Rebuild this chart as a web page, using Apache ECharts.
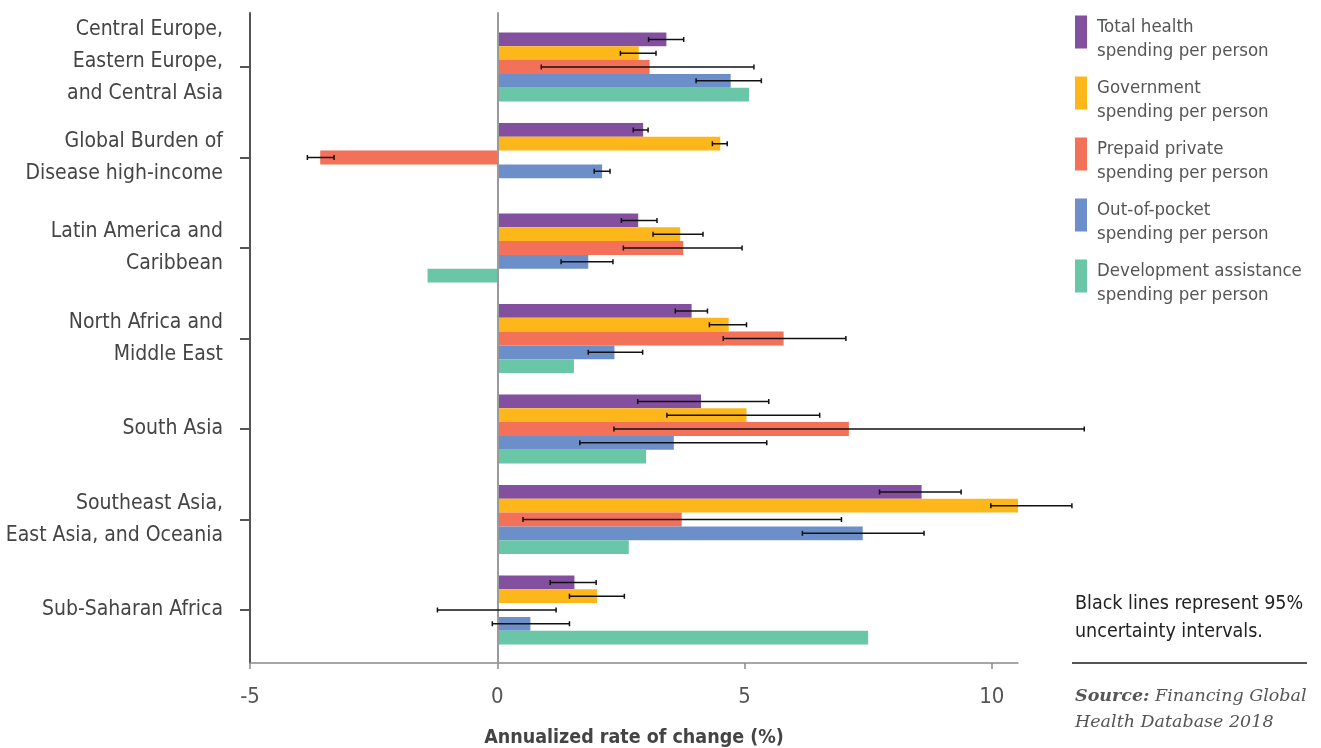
<!DOCTYPE html>
<html>
<head>
<meta charset="utf-8">
<title>Annualized rate of change in health spending per person</title>
<script src="https://cdn.jsdelivr.net/npm/echarts@6/dist/echarts.min.js"></script>
<style>
  html, body { margin: 0; padding: 0; background: #ffffff; }
  #chart { width: 1321px; height: 748px; }
</style>
</head>
<body>
<div id="chart"></div>
<script>
// Regions, top to bottom
const regions = [
  'Central Europe,\nEastern Europe,\nand Central Asia',
  'Global Burden of\nDisease high-income',
  'Latin America and\nCaribbean',
  'North Africa and\nMiddle East',
  'South Asia',
  'Southeast Asia,\nEast Asia, and Oceania',
  'Sub-Saharan Africa'
];

const seriesNames = [
  'Total health\nspending per person',
  'Government\nspending per person',
  'Prepaid private\nspending per person',
  'Out-of-pocket\nspending per person',
  'Development assistance\nspending per person'
];

// Annualized rate of change (%), with 95% uncertainty bounds
const totalHealth   = [3.42, 2.95, 2.85, 3.93, 4.12, 8.58, 1.56];
const totalLow      = [3.06, 2.75, 2.51, 3.60, 2.84, 7.73, 1.07];
const totalHigh     = [3.77, 3.05, 3.23, 4.25, 5.49, 9.38, 2.00];

const government    = [2.86, 4.51, 3.70, 4.68, 5.04, 10.81, 2.02];
const governmentLow = [2.49, 4.35, 3.15, 4.29, 3.43, 9.98, 1.46];
const governmentHigh= [3.21, 4.65, 4.16, 5.04, 6.52, 11.62, 2.57];

const prepaid       = [3.08, -3.58, 3.76, 5.79, 7.11, 3.73, 0.03];
const prepaidLow    = [0.89, -3.84, 2.55, 4.57, 2.36, 0.52, -1.21];
const prepaidHigh   = [5.19, -3.30, 4.95, 7.05, 11.87, 6.96, 1.19];

const outOfPocket   = [4.72, 2.12, 1.84, 2.37, 3.57, 7.39, 0.67];
const oopLow        = [4.02, 1.96, 1.29, 1.84, 1.67, 6.17, -0.10];
const oopHigh       = [5.34, 2.28, 2.34, 2.94, 5.45, 8.63, 1.46];

const development   = [5.09, null, -1.41, 1.55, 3.01, 2.66, 7.50];

const xTicks = [-5, 0, 5, 10];

const colors = ['#8350a0', '#fdb71a', '#f37158', '#6c8fc9', '#69c6a7'];
const sans = "'Liberation Sans Narrow', 'DejaVu Sans Condensed', 'Roboto', sans-serif";
const serif = "'DejaVu Serif', 'Liberation Serif', serif";

const values = [totalHealth, government, prepaid, outOfPocket, development];
const bounds = [
  [totalLow, totalHigh],
  [governmentLow, governmentHigh],
  [prepaidLow, prepaidHigh],
  [oopLow, oopHigh],
  null
];

const xMin = -5, xMax = 10.53;
const catGap = 0.24;
const nSeries = values.length;

// error-bar records: [category index, low, high, series index]
const errorData = [];
bounds.forEach((b, s) => {
  if (!b) return;
  b[0].forEach((lo, i) => {
    if (lo != null && b[1][i] != null) errorData.push([i, lo, b[1][i], s]);
  });
});

// legend swatch: a 12x33 block sitting at the top of a 12x47 box
const swatch = 'path://M0,0L12,0L12,33L0,33Z M0,47L12,47';

const chart = echarts.init(document.getElementById('chart'), null, { renderer: 'canvas' });

const barSeries = values.map((v, s) => ({
  name: seriesNames[s],
  type: 'bar',
  xAxisIndex: 1,
  yAxisIndex: 2,
  data: v,
  barGap: '0%',
  barCategoryGap: (catGap * 100) + '%',
  itemStyle: { color: colors[s] },
  emphasis: { disabled: true },
  z: 2
}));

chart.setOption({
  animation: false,
  backgroundColor: '#ffffff',
  grid: [
    // frame grid: axis lines span the full plotting height
    { left: 250, right: 303, top: 13, bottom: 85, outerBoundsMode: 'none', containLabel: false },
    // bar grid: category bands
    { left: 250, right: 303, top: 21.75, bottom: 92.75, outerBoundsMode: 'none', containLabel: false }
  ],
  legend: {
    orient: 'vertical',
    left: 1070,
    top: 10,
    itemWidth: 12,
    itemHeight: 47,
    itemGap: 13,
    icon: swatch,
    itemStyle: { borderWidth: 0 },
    selectedMode: false,
    data: seriesNames,
    textStyle: {
      fontFamily: sans,
      fontSize: 18.5,
      lineHeight: 24,
      color: '#555555',
      padding: [0, 0, 0, 5]
    }
  },
  xAxis: [
    {
      gridIndex: 0,
      type: 'value',
      min: xMin,
      max: xMax,
      position: 'bottom',
      axisLine: { show: true, onZero: false, lineStyle: { color: '#8a8a8a', width: 1.5 } },
      axisTick: { show: true, length: 6, customValues: xTicks, lineStyle: { color: '#8a8a8a', width: 1.5 } },
      axisLabel: {
        customValues: xTicks,
        margin: 23,
        fontFamily: sans,
        fontSize: 22,
        color: '#555555'
      },
      splitLine: { show: false },
      name: 'Annualized rate of change (%)',
      nameLocation: 'middle',
      nameGap: 65,
      nameTextStyle: { fontFamily: sans, fontSize: 19.5, fontWeight: 'bold', color: '#444444' }
    },
    {
      gridIndex: 1,
      type: 'value',
      min: xMin,
      max: xMax,
      show: false
    }
  ],
  yAxis: [
    {
      // left frame line
      gridIndex: 0,
      type: 'value',
      min: 0, max: 1,
      position: 'left',
      axisLine: { show: true, onZero: false, lineStyle: { color: '#555555', width: 2 } },
      axisTick: { show: false },
      axisLabel: { show: false },
      splitLine: { show: false }
    },
    {
      // zero reference line
      gridIndex: 0,
      type: 'value',
      min: 0, max: 1,
      axisLine: { show: true, onZero: true, lineStyle: { color: '#9a9a9a', width: 2 } },
      axisTick: { show: false },
      axisLabel: { show: false },
      splitLine: { show: false },
      z: 3
    },
    {
      gridIndex: 1,
      type: 'category',
      data: regions,
      inverse: true,
      position: 'left',
      axisLine: { show: false, onZero: false },
      axisTick: { show: true, alignWithLabel: true, length: 10, inside: false, lineStyle: { color: '#555555', width: 2 } },
      axisLabel: {
        margin: 27,
        fontFamily: sans,
        fontSize: 21,
        lineHeight: 32,
        color: '#444444',
        align: 'right',
        // three-line names sit a little above their tick
        formatter: function (v) {
          const lines = v.split('\n');
          const body = lines.map(l => '{l|' + l + '}').join('\n');
          return lines.length >= 3 ? body + '\n{s| }' : body;
        },
        rich: {
          l: { fontFamily: sans, fontSize: 21, lineHeight: 32, color: '#444444' },
          s: { fontSize: 1, lineHeight: 10 }
        }
      }
    }
  ],
  series: barSeries.concat([
    {
      type: 'custom',
      name: 'uncertainty',
      xAxisIndex: 1,
      yAxisIndex: 2,
      data: errorData,
      z: 5,
      silent: true,
      encode: { x: [1, 2], y: 0 },
      renderItem: function (params, api) {
        const cat = api.value(0);
        const lo = api.value(1);
        const hi = api.value(2);
        const s = api.value(3);
        const band = api.size([0, 1])[1];
        const total = band * (1 - catGap);
        const each = total / nSeries;
        const p0 = api.coord([lo, cat]);
        const p1 = api.coord([hi, cat]);
        const y = p0[1] - total / 2 + (s + 0.5) * each;
        const cap = 2.5;
        const style = { stroke: '#111111', lineWidth: 1.5 };
        return {
          type: 'group',
          children: [
            { type: 'line', shape: { x1: p0[0], y1: y, x2: p1[0], y2: y }, style: style },
            { type: 'line', shape: { x1: p0[0], y1: y - cap, x2: p0[0], y2: y + cap }, style: style },
            { type: 'line', shape: { x1: p1[0], y1: y - cap, x2: p1[0], y2: y + cap }, style: style }
          ]
        };
      }
    }
  ]),
  graphic: [
    {
      type: 'text',
      left: 1075,
      top: 590,
      style: {
        text: 'Black lines represent 95%\nuncertainty intervals.',
        fontFamily: sans,
        fontSize: 19.5,
        lineHeight: 28,
        fill: '#222222'
      }
    },
    {
      type: 'line',
      shape: { x1: 1072, y1: 663, x2: 1307, y2: 663 },
      style: { stroke: '#555555', lineWidth: 2 }
    },
    {
      type: 'text',
      left: 1075,
      top: 683,
      style: {
        text: '{b|Source:} Financing Global\nHealth Database 2018',
        fontFamily: serif,
        fontStyle: 'italic',
        fontSize: 17.5,
        lineHeight: 26,
        fill: '#555555',
        rich: {
          b: { fontFamily: serif, fontStyle: 'italic', fontWeight: 'bold', fontSize: 17.5, fill: '#555555' }
        }
      }
    }
  ]
});
</script>
</body>
</html>
